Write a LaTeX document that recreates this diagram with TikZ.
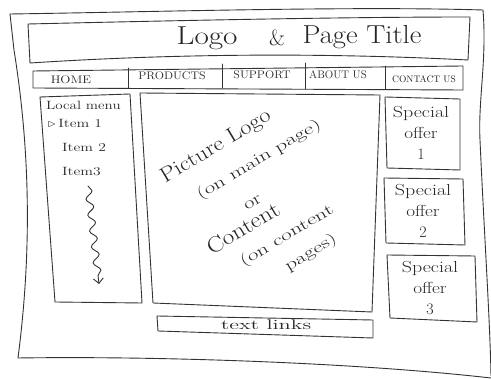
\documentclass[tikz,border=0pt]{standalone}
\usepackage{graphicx}
\usetikzlibrary{decorations.pathmorphing,arrows.meta}
\newcommand{\widehand}[2][1.3]{\scalebox{#1}[1]{#2}}
\tikzset{
  ink/.style={black!80, line width=0.9pt, line join=round, line cap=round},
  navtext/.style={font=\fontsize{11}{11}\selectfont, text=black!85, inner sep=1pt},
  menutext/.style={font=\fontsize{12}{12}\selectfont, text=black!85, inner sep=1pt, anchor=west},
  offertext/.style={font=\fontsize{16}{21}\selectfont, text=black!85, align=center, inner sep=0pt},
  scrawl/.style={text=black!85, rotate=31, inner sep=0pt}
}
\begin{document}
\begin{tikzpicture}[x=1pt,y=-1pt]
        \useasboundingbox (0,0) rectangle (491,379);

        % outer frame
        \draw[ink] (10,14) .. controls (150,12) and (350,6) .. (483,10)
                   .. controls (487,60) and (478,100) .. (480,140)
                   .. controls (484,230) and (490,320) .. (491,376);
        \draw[ink] (10,14) -- (14,50) .. controls (30,150) and (32,250) .. (18,358)
                   .. controls (150,356) and (350,362) .. (491,378);

        % header
        \draw[ink] (28,24) .. controls (200,20) and (350,17) .. (470,17)
                   -- (468,60) .. controls (350,54) and (200,52) .. (30,63) -- cycle;
        \node[font=\fontsize{26}{26}\selectfont, text=black!85] (logo) at (207,38) {\widehand[1.2]{Logo}};
        \node[font=\fontsize{22}{22}\selectfont, text=black!85] (amp) at (277,38) {\&};
        \node[font=\fontsize{26}{26}\selectfont, text=black!85] (title) at (362,37) {\widehand[1.1]{Page Title}};

        % navigation
        \draw[ink] (33,71) -- (463,66) -- (463,90) -- (33,88) -- cycle;
        \draw[ink] (128,68) -- (128,88);
        \draw[ink] (222,64) -- (222,88);
        \draw[ink] (305,63) -- (305,89);
        \draw[ink] (385,66) -- (385,89);
        \node[navtext] (home) at (71,80) {\widehand[1.2]{HOME}};
        \node[navtext] (products) at (172,76) {\widehand[1.1]{PRODUCTS}};
        \node[navtext] (support) at (262,75) {\widehand[1.1]{SUPPORT}};
        \node[navtext] (about) at (338,75) {ABOUT US};
        \node[navtext, font=\fontsize{9.5}{9.5}\selectfont] (contact) at (424,79) {CONTACT US};

        % local menu
        \draw[ink] (40,97) -- (130,94) -- (142,303) -- (55,302) -- cycle;
        \node[menutext] (localmenu) at (45,105) {\widehand[1.25]{Local menu}};
        \node[menutext] (item1) at (47,123) {\widehand{$\triangleright$\,Item 1}};
        \node[menutext] (item2) at (61,147) {\widehand{Item 2}};
        \node[menutext] (item3) at (61,172) {\widehand{Item3}};
        \coordinate (scrolltop) at (88,186);
        \coordinate (scrollend) at (99,284);
        \draw[ink, -{Straight Barb[length=5pt,width=10pt]},
              decorate, decoration={snake, amplitude=3.5pt, segment length=16pt, post length=6pt}]
              (scrolltop) -- (scrollend);

        % main content
        \draw[ink] (140,93) -- (380,95) -- (372,312) -- (153,303) -- cycle;
        \node[scrawl, font=\fontsize{21}{21}\selectfont] (piclogo) at (216,147) {\widehand[1.15]{Picture Logo}};
        \node[scrawl, font=\fontsize{16}{16}\selectfont] (mainpage) at (259,160) {\widehand[1.45]{(on main page)}};
        \node[scrawl, font=\fontsize{17}{17}\selectfont] (or) at (253,203) {\widehand{or}};
        \node[scrawl, font=\fontsize{22}{22}\selectfont] (content) at (243,228) {\widehand[1.15]{Content}};
        \node[scrawl, font=\fontsize{16}{16}\selectfont] (contentpages) at (287,236) {\widehand[1.45]{(on content}};
        \node[scrawl, font=\fontsize{16}{16}\selectfont] (pages) at (311,253) {\widehand[1.4]{pages)}};

        % text links
        \draw[ink] (157,316) -- (373,320) -- (373,338) -- (158,331) -- cycle;
        \node[font=\fontsize{14}{14}\selectfont, text=black!85] (links) at (266,325) {\widehand[1.6]{text links}};

        % special offers
        \draw[ink] (385,97) -- (460,99) -- (460,170) -- (387,168) -- cycle;
        \draw[ink] (384,178) -- (463,179) -- (465,245) -- (386,243) -- cycle;
        \draw[ink] (387,255) -- (475,256) -- (477,322) -- (390,318) -- cycle;
        \node[offertext] (offer1) at (421,133) {\widehand[1.25]{Special}\\\widehand[1.2]{offer}\\1};
        \node[offertext] (offer2) at (423,211) {\widehand[1.25]{Special}\\\widehand[1.2]{offer}\\2};
        \node[offertext] (offer3) at (430,288) {\widehand[1.25]{Special}\\\widehand[1.2]{offer}\\3};
    \end{tikzpicture}
\end{document}
